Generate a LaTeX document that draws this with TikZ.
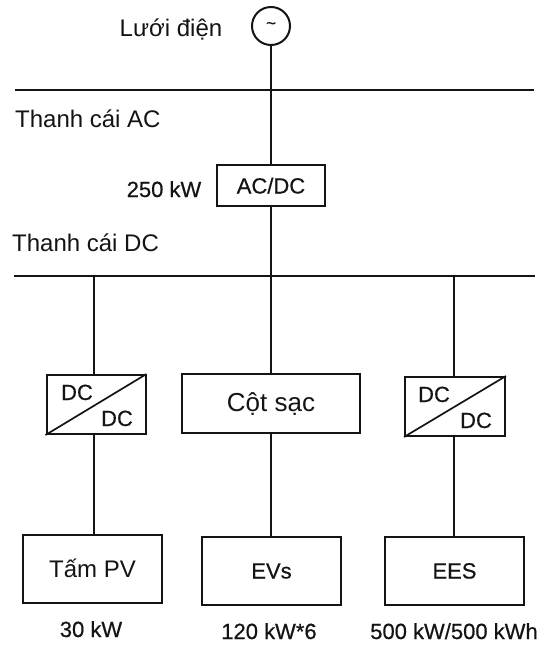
\documentclass[tikz,border=0pt]{standalone}
\usepackage{fontspec}
\setmainfont[FakeBold=0.5]{Liberation Sans}
\newfontfamily\semifont[FakeBold=0.5]{Liberation Sans}
\newfontfamily\plainfont{Liberation Sans}
\definecolor{ink}{gray}{0.08}
\tikzset{
  x=1pt,y=-1pt,
  every node/.style={text=ink},
  wire/.style={draw=ink,line width=2pt},
  bus/.style={draw=ink,line width=2pt},
  box/.style={draw=ink,line width=2pt,rectangle,inner sep=0pt,text height=16pt,text depth=0pt,font=\semifont\fontsize{22}{24}\selectfont},
  lab/.style={inner sep=0pt,anchor=base,font=\semifont\fontsize{22}{24}\selectfont},
  labw/.style={inner sep=0pt,anchor=base west,font=\plainfont\fontsize{24}{26}\selectfont},
}
\begin{document}
\begin{tikzpicture}
\useasboundingbox (0,0) rectangle (538,648);
\fill[white] (0,0) rectangle (538,648);
% source
\node[circle,draw=ink,line width=2pt,minimum size=38pt,inner sep=0pt,font=\semifont\fontsize{17}{17}\selectfont] (grid) at (271,26) {\raisebox{1pt}{\textasciitilde}};
\node[lab,font=\plainfont\fontsize{24}{26}\selectfont] (gridlab) at (171,36) {Lưới điện};
% buses
\coordinate (acL) at (15,90);
\coordinate (acR) at (534,90);
\coordinate (dcL) at (14,276);
\coordinate (dcR) at (535,276);
\coordinate (tapL) at (94,276);
\coordinate (tapR) at (454,276);
\draw[bus] (acL) -- (acR);
\draw[bus] (dcL) -- (dcR);
\node[labw] (aclab) at (15,127) {Thanh cái AC};
\node[labw] (dclab) at (12,251) {Thanh cái DC};
% converter
\node[box,minimum width=108pt,minimum height=41pt] (acdc) at (271,185.5) {AC/DC};
\node[lab] (acdclab) at (164,197) {250 kW};
% second row
\node[box,minimum width=99pt,minimum height=59pt] (dc1) at (96,404.5) {};
\node[box,minimum width=178pt,minimum height=59pt,font=\plainfont\fontsize{26}{28}\selectfont] (chg) at (271,403.5) {Cột sạc};
\node[box,minimum width=100pt,minimum height=59pt] (dc2) at (455,406.5) {};
\draw[wire,line width=1.7pt] (dc1.south west) -- (dc1.north east);
\draw[wire,line width=1.7pt] (dc2.south west) -- (dc2.north east);
\node[lab] (dc1a) at (77,400) {DC};
\node[lab] (dc1b) at (117,426) {DC};
\node[lab] (dc2a) at (434,402) {DC};
\node[lab] (dc2b) at (476,428) {DC};
% third row
\node[box,minimum width=139pt,minimum height=68pt,font=\plainfont\fontsize{24}{26}\selectfont] (pv) at (92.5,569) {Tấm PV};
\node[box,minimum width=139pt,minimum height=68pt] (ev) at (271.5,570.5) {EVs};
\node[box,minimum width=139pt,minimum height=68pt] (ees) at (454.5,570.5) {EES};
\node[lab] (pvlab) at (91,637) {30 kW};
\node[lab] (evlab) at (269,639) {120 kW*6};
\node[lab] (eeslab) at (454,639) {500 kW/500 kWh};
% connectors
\draw[wire] (grid) -- (acdc);
\draw[wire] (acdc) -- (chg);
\draw[wire] (chg.south) -- (chg.south |- ev.north);
\draw[wire] (tapL) -- (tapL |- dc1.north);
\draw[wire] (tapR) -- (tapR |- dc2.north);
\draw[wire] (tapL |- dc1.south) -- (tapL |- pv.north);
\draw[wire] (tapR |- dc2.south) -- (tapR |- ees.north);
\end{tikzpicture}
\end{document}
